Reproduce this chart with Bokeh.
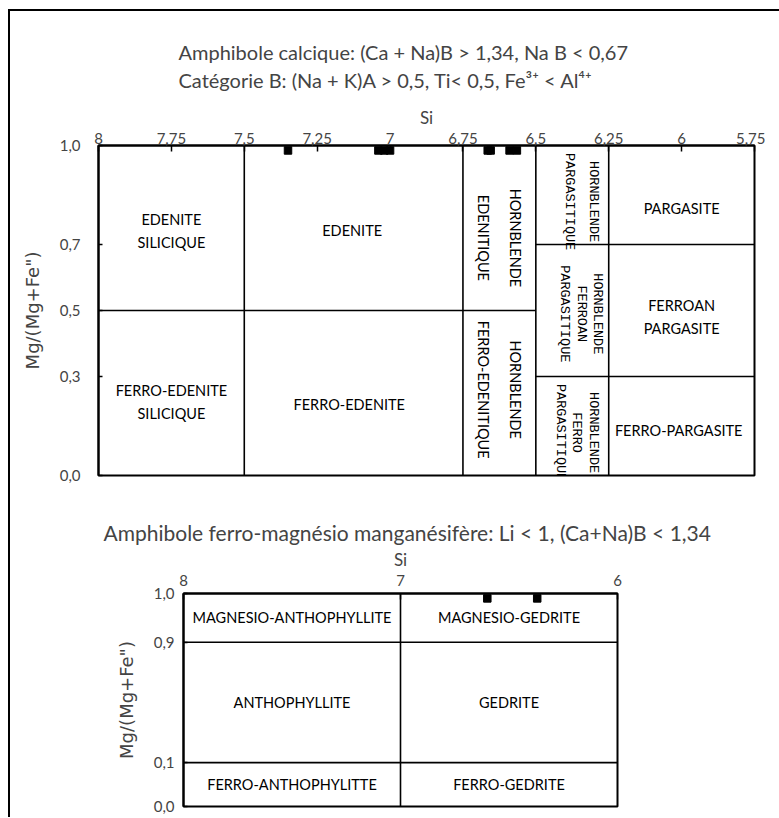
import numpy as np
from bokeh.plotting import figure
from bokeh.models import Title, FixedTicker, Range1d, Div
from bokeh.embed import file_html
from bokeh.resources import INLINE
from bokeh.core.properties import value

# ------------------------------------------------------------------
# Calcic amphibole diagram (category B)
# ------------------------------------------------------------------
CA_TITLE_1 = "Amphibole calcique: (Ca + Na)B > 1,34, Na B < 0,67"
CA_TITLE_2 = "Catégorie  B: (Na + K)A > 0,5, Ti< 0,5, Fe³⁺ < Al⁴⁺"
CA_X_TICKS = [8, 7.75, 7.5, 7.25, 7, 6.75, 6.5, 6.25, 6, 5.75]
CA_X_LABELS = ["8", "7,75", "7,5", "7,25", "7", "6,75", "6,5", "6,25", "6", "5,75"]
CA_Y_TICKS = [0.0, 0.3, 0.5, 0.7, 1.0]
CA_Y_LABELS = ["0,0", "0,3", "0,5", "0,7", "1,0"]

# field boundaries (Si, Mg/(Mg+Fe2+))
CA_B_X0 = [7.5, 6.75, 6.5, 6.25, 8.0, 6.5, 6.5]
CA_B_Y0 = [0.0, 0.0, 0.0, 0.0, 0.5, 0.7, 0.3]
CA_B_X1 = [7.5, 6.75, 6.5, 6.25, 6.5, 5.75, 5.75]
CA_B_Y1 = [1.0, 1.0, 1.0, 1.0, 0.5, 0.7, 0.3]

# horizontal field names
CA_NAMES_H = ["EDENITE\nSILICIQUE", "EDENITE", "FERRO-EDENITE\nSILICIQUE",
              "FERRO-EDENITE", "PARGASITE", "FERROAN\nPARGASITE", "FERRO-PARGASITE"]
CA_NAMES_H_SI = [7.75, 7.13, 7.75, 7.14, 6.0, 6.0, 6.01]
CA_NAMES_H_MG = [0.742, 0.742, 0.224, 0.215, 0.81, 0.48, 0.135]

# vertical field names (sans)
CA_NAMES_V = ["HORNBLENDE\nEDENITIQUE", "HORNBLENDE\nFERRO-EDENITIQUE"]
CA_NAMES_V_SI = [6.625, 6.625]
CA_NAMES_V_MG = [0.72, 0.26]

# vertical field names (typewriter)
CA_NAMES_T2 = ["HORNBLENDE\nPARGASITIQUE"]
CA_NAMES_T2_SI = [6.345]
CA_NAMES_T2_MG = [0.83]
CA_NAMES_T3 = ["HORNBLENDE\nFERROAN\nPARGASITIQUE", "HORNBLENDE\nFERRO\nPARGASITIQUE"]
CA_NAMES_T3_SI = [6.345, 6.36]
CA_NAMES_T3_MG = [0.49, 0.13]

# analysed samples
CA_SAMPLE_SI = [7.35, 7.04, 7.02, 7.00, 6.665, 6.655, 6.59, 6.565]
CA_SAMPLE_MG = [0.985, 0.985, 0.985, 0.985, 0.985, 0.985, 0.985, 0.985]

# ------------------------------------------------------------------
# Fe-Mg-Mn amphibole diagram
# ------------------------------------------------------------------
FM_TITLE = "Amphibole ferro-magnésio manganésifère: Li < 1, (Ca+Na)B < 1,34"
FM_X_TICKS = [8, 7, 6]
FM_X_LABELS = ["8", "7", "6"]
FM_Y_TICKS = [0.0, 0.1, 0.9, 1.0]
FM_Y_LABELS = ["0,0", "0,1", "0,9", "1,0"]

FM_B_X0 = [7.0, 8.0, 8.0]
FM_B_Y0 = [0.0, 0.9, 0.1]
FM_B_X1 = [7.0, 6.0, 6.0]
FM_B_Y1 = [1.0, 0.9, 0.1]

FM_NAMES = ["MAGNESIO-ANTHOPHYLLITE", "MAGNESIO-GEDRITE", "ANTHOPHYLLITE",
            "GEDRITE", "FERRO-ANTHOPHYLITTE", "FERRO-GEDRITE"]
FM_NAMES_SI = [7.5, 6.5, 7.5, 6.5, 7.5, 6.5]
FM_NAMES_MG = [0.95, 0.95, 0.5, 0.5, 0.05, 0.05]

FM_SAMPLE_SI = [6.6, 6.37]
FM_SAMPLE_MG = [0.99, 0.99]

# schematic (non-proportional) vertical axis of the original diagram
FM_AXIS_BREAKS = [0.0, 0.1, 0.9, 1.0]
FM_AXIS_SPAN = [0.0, 0.206, 0.771, 1.0]


def fm_y(v):
    return [float(t) for t in np.interp(np.asarray(v, dtype=float), FM_AXIS_BREAKS, FM_AXIS_SPAN)]


SANS = "Lato"
TXT = "14.5px"


def style_axes(p, xt, xl, yt, yl, x_standoff, y_standoff, ylab_standoff):
    p.xgrid.visible = False
    p.ygrid.visible = False
    p.outline_line_color = "black"
    p.outline_line_width = 2
    p.outline_line_alpha = 1
    p.background_fill_color = "white"
    p.border_fill_color = "white"

    xa = p.xaxis[0]
    xa.ticker = FixedTicker(ticks=list(xt))
    xa.major_label_overrides = dict(zip(xt, xl))
    xa.axis_label = "Si"
    xa.axis_label_text_font = SANS
    xa.axis_label_text_font_style = "normal"
    xa.axis_label_text_font_size = "17px"
    xa.axis_label_standoff = 2
    xa.major_label_text_font = SANS
    xa.major_label_text_font_size = "15px"
    xa.major_label_standoff = x_standoff
    xa.major_tick_in = 6
    xa.major_tick_out = 0
    xa.minor_tick_in = 0
    xa.minor_tick_out = 0
    xa.axis_line_width = 2
    xa.major_tick_line_width = 1.5

    ya = p.yaxis[0]
    ya.ticker = FixedTicker(ticks=list(yt))
    ya.major_label_overrides = dict(zip(yt, yl))
    ya.axis_label = 'Mg/(Mg+Fe")'
    ya.axis_label_text_font = "DejaVu Sans"
    ya.axis_label_text_font_style = "normal"
    ya.axis_label_text_font_size = "18px"
    ya.axis_label_standoff = ylab_standoff
    ya.major_label_text_font = SANS
    ya.major_label_text_font_size = "15px"
    ya.major_label_standoff = y_standoff
    ya.major_tick_in = 4
    ya.major_tick_out = 0
    ya.minor_tick_in = 0
    ya.minor_tick_out = 0
    ya.axis_line_width = 2
    ya.major_tick_line_width = 1.5


# ---------------- figure 1 ----------------
p1 = figure(width=755, height=484, x_range=Range1d(8, 5.75), y_range=Range1d(0, 1),
            x_axis_location="above", output_backend="svg", toolbar_location=None,
            min_border_left=88, min_border_right=11, min_border_top=139,
            min_border_bottom=15, title=None)
style_axes(p1, CA_X_TICKS, CA_X_LABELS, CA_Y_TICKS, CA_Y_LABELS, 2, 18, 14)
p1.add_layout(Title(text=CA_TITLE_1 + "\n" + CA_TITLE_2, align="left", offset=80,
                    text_font=SANS, text_font_size="20px", text_font_style="normal",
                    text_line_height=1.18, standoff=23), "above")

p1.segment(x0=CA_B_X0, y0=CA_B_Y0, x1=CA_B_X1, y1=CA_B_Y1,
           line_color="black", line_width=1.6)

p1.text(x=CA_NAMES_H_SI, y=CA_NAMES_H_MG, text=CA_NAMES_H,
        text_font=value(SANS), text_font_size=TXT, text_align="center",
        text_baseline="middle", text_line_height=1.35, text_color="black")
p1.text(x=CA_NAMES_V_SI, y=CA_NAMES_V_MG, text=CA_NAMES_V, angle=-np.pi / 2,
        text_font=value(SANS), text_font_size=TXT, text_align="center",
        text_baseline="middle", text_line_height=1.9, text_color="black")
p1.text(x=CA_NAMES_T2_SI, y=CA_NAMES_T2_MG, text=CA_NAMES_T2, angle=-np.pi / 2,
        text_font=value("Liberation Mono"), text_font_size="13.5px", text_align="center",
        text_baseline="middle", text_line_height=1.6, text_color="black")
p1.text(x=CA_NAMES_T3_SI, y=CA_NAMES_T3_MG, text=CA_NAMES_T3, angle=-np.pi / 2,
        text_font=value("Liberation Mono"), text_font_size="13.5px", text_align="center",
        text_baseline="middle", text_line_height=1.1, text_color="black")

p1.scatter(x=CA_SAMPLE_SI, y=CA_SAMPLE_MG, marker="square", size=7.5,
           fill_color="black", line_color="black")

# ---------------- figure 2 ----------------
p2 = figure(width=755, height=326, x_range=Range1d(8, 6), y_range=Range1d(0, 1),
            x_axis_location="above", output_backend="svg", toolbar_location=None,
            min_border_left=173, min_border_right=148, min_border_top=103,
            min_border_bottom=10, title=None)
style_axes(p2, FM_X_TICKS, FM_X_LABELS, fm_y(FM_Y_TICKS), FM_Y_LABELS, 8, 9, 14)
p2.add_layout(Title(text=FM_TITLE, align="left", offset=-80, text_font=SANS,
                    text_font_size="21px", text_font_style="normal", standoff=2), "above")

p2.segment(x0=FM_B_X0, y0=fm_y(FM_B_Y0), x1=FM_B_X1, y1=fm_y(FM_B_Y1),
           line_color="black", line_width=1.6)
p2.text(x=FM_NAMES_SI, y=fm_y(FM_NAMES_MG), text=FM_NAMES,
        text_font=value(SANS), text_font_size=TXT, text_align="center",
        text_baseline="middle", text_color="black")
p2.scatter(x=FM_SAMPLE_SI, y=fm_y(FM_SAMPLE_MG), marker="square", size=7.5,
           fill_color="black", line_color="black")

p1.styles = {"margin-left": "10px", "margin-top": "6px"}
p2.styles = {"margin-left": "10px"}

# page frame of the scanned sheet (left and top edges only)
frame = Div(text='<div style="width:776px;height:808px;box-sizing:border-box;'
                 'border-left:2px solid #000;border-top:2px solid #000;"></div>',
            styles={"position": "absolute", "left": "3px", "top": "4px",
                    "pointer-events": "none"})

open("out.html", "w").write(file_html([p1, p2, frame], INLINE))
